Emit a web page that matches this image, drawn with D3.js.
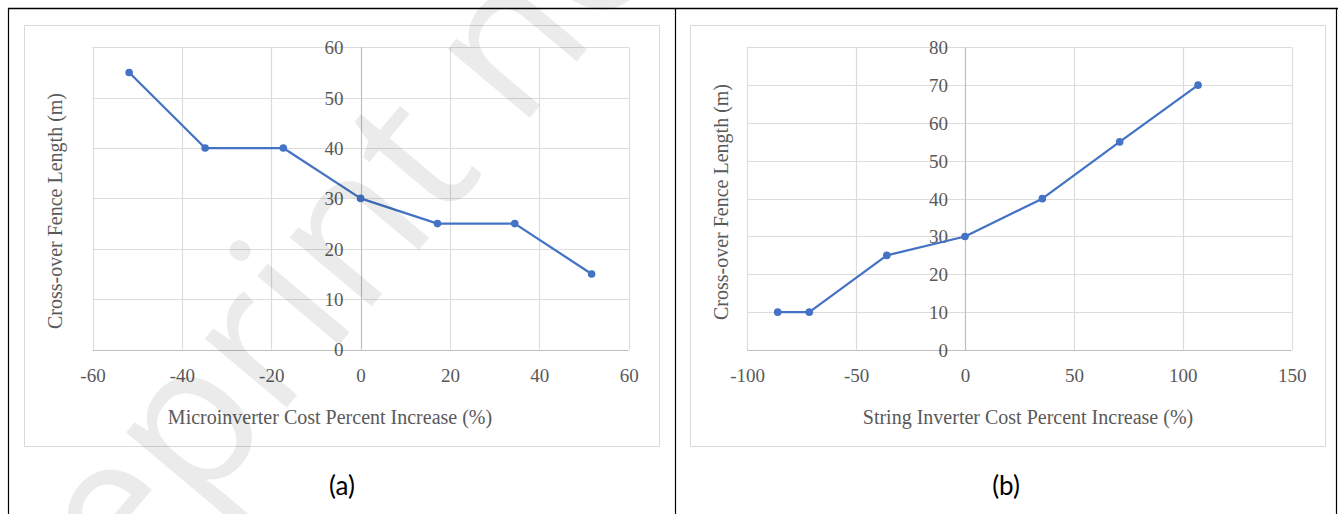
<!DOCTYPE html>
<html>
<head>
<meta charset="utf-8">
<script src="https://cdn.jsdelivr.net/npm/d3@7"></script>
<style>
  html, body { margin: 0; padding: 0; background: #fff; }
  svg { display: block; }
</style>
</head>
<body>
<svg id="chart" width="1338" height="514"></svg>
<script>
// ---------- data ----------
const microCostIncrease = [-51.8, -34.8, -17.3, 0, 17.2, 34.5, 51.7];
const microFenceLength  = [55, 40, 40, 30, 25, 25, 15];
const stringCostIncrease = [-86, -71.5, -35.9, 0, 35.5, 71, 107];
const stringFenceLength  = [10, 10, 25, 30, 40, 55, 70];
const microXTicks = [-60, -40, -20, 0, 20, 40, 60];
const microYTicks = [0, 10, 20, 30, 40, 50, 60];
const stringXTicks = [-100, -50, 0, 50, 100, 150];
const stringYTicks = [0, 10, 20, 30, 40, 50, 60, 70, 80];
const yTitle = "Cross-over Fence Length (m)";
const microXTitle = "Microinverter Cost Percent Increase (%)";
const stringXTitle = "String Inverter Cost Percent Increase (%)";
const captions = ["(a)", "(b)"];
const watermarkText = "Preprint not peer reviewed";

const svg = d3.select("#chart");
const SERIF = "'Liberation Serif', 'Times New Roman', serif";
const LINE_COLOR = "#4472C4";
const fmt = d => String(d); // plain hyphen-minus like the reference

function panel(cfg) {
  const g = svg.append("g");
  g.append("rect")
    .attr("x", cfg.box[0] + 0.5).attr("y", cfg.box[1] + 0.5)
    .attr("width", cfg.box[2] - cfg.box[0]).attr("height", cfg.box[3] - cfg.box[1])
    .attr("fill", "#fff").attr("stroke", "#d9d9d9").attr("stroke-width", 1);

  const x = d3.scaleLinear().domain(cfg.xDomain).range([cfg.plot[0], cfg.plot[2]]);
  const y = d3.scaleLinear().domain(cfg.yDomain).range([cfg.plot[3], cfg.plot[1]]);

  g.append("g").selectAll("line").data(cfg.yTicks).join("line")
    .attr("x1", x(cfg.xDomain[0])).attr("x2", x(cfg.xDomain[1]))
    .attr("y1", d => Math.round(y(d)) + 0.5).attr("y2", d => Math.round(y(d)) + 0.5)
    .attr("stroke", d => d === 0 ? "#bfbfbf" : "#dcdcdc").attr("stroke-width", 1.2);
  g.append("g").selectAll("line").data(cfg.xTicks).join("line")
    .attr("y1", y(cfg.yDomain[0])).attr("y2", y(cfg.yDomain[1]))
    .attr("x1", d => Math.round(x(d)) + 0.5).attr("x2", d => Math.round(x(d)) + 0.5)
    .attr("stroke", d => d === 0 ? "#bfbfbf" : "#dcdcdc").attr("stroke-width", 1.2);

  const xAxis = d3.axisBottom(x).tickValues(cfg.xTicks).tickSize(0).tickPadding(0).tickFormat(fmt);
  const xg = g.append("g").attr("transform", `translate(0,${y(0)})`).call(xAxis);
  xg.select(".domain").remove();
  xg.selectAll("text")
    .attr("y", 32).attr("dy", null)
    .attr("font-family", SERIF).attr("font-size", 19).attr("fill", "#595959");

  const yAxis = d3.axisLeft(y).tickValues(cfg.yTicks).tickSize(0).tickPadding(17).tickFormat(fmt);
  const yg = g.append("g").attr("transform", `translate(${x(0)},0)`).call(yAxis);
  yg.select(".domain").remove();
  yg.selectAll("text")
    .attr("dy", "0.34em")
    .attr("font-family", SERIF).attr("font-size", 19).attr("fill", "#595959");

  g.append("text")
    .attr("x", cfg.xTitlePos[0]).attr("y", cfg.xTitlePos[1])
    .attr("text-anchor", "middle")
    .attr("font-family", SERIF).attr("font-size", 20).attr("fill", "#595959")
    .text(cfg.xTitle);
  g.append("text")
    .attr("transform", `translate(${cfg.yTitlePos[0]},${cfg.yTitlePos[1]}) rotate(-90)`)
    .attr("text-anchor", "middle")
    .attr("font-family", SERIF).attr("font-size", 20).attr("fill", "#595959")
    .text(yTitle);

  const pts = cfg.xs.map((v, i) => [v, cfg.ys[i]]);
  const line = d3.line().x(d => x(d[0])).y(d => y(d[1]));
  g.append("path").datum(pts)
    .attr("d", line).attr("fill", "none")
    .attr("stroke", LINE_COLOR).attr("stroke-width", 2.25)
    .attr("stroke-linejoin", "round");
  g.append("g").selectAll("circle").data(pts).join("circle")
    .attr("cx", d => x(d[0])).attr("cy", d => y(d[1])).attr("r", 3.8)
    .attr("fill", LINE_COLOR);

  g.append("text")
    .attr("x", cfg.captionPos[0]).attr("y", cfg.captionPos[1])
    .attr("text-anchor", "middle")
    .attr("font-family", "Lato, 'Open Sans', sans-serif").attr("font-size", 26).attr("fill", "#000")
    .text(cfg.caption);
}

panel({
  box: [24, 25, 659, 446],
  plot: [92.5, 47.3, 628.7, 349.5],
  xDomain: [-60, 60], yDomain: [0, 60],
  xTicks: microXTicks, yTicks: microYTicks,
  xs: microCostIncrease, ys: microFenceLength,
  xTitle: microXTitle, xTitlePos: [330, 424],
  yTitlePos: [62, 211],
  caption: captions[0], captionPos: [342, 495]
});

panel({
  box: [690, 25, 1325, 446],
  plot: [747.2, 47.3, 1291.7, 350],
  xDomain: [-100, 150], yDomain: [0, 80],
  xTicks: stringXTicks, yTicks: stringYTicks,
  xs: stringCostIncrease, ys: stringFenceLength,
  xTitle: stringXTitle, xTitlePos: [1028, 424],
  yTitlePos: [727.5, 202],
  caption: captions[1], captionPos: [1006, 495]
});

const frame = svg.append("g").attr("stroke", "#000").attr("fill", "none");
frame.append("line").attr("x1", 8).attr("x2", 1338).attr("y1", 8.5).attr("y2", 8.5).attr("stroke-width", 1.6);
[8.5, 675.5, 1336.5].forEach(xv => {
  frame.append("line").attr("x1", xv).attr("x2", xv).attr("y1", 8).attr("y2", 514).attr("stroke-width", 1.2);
});

// watermark (light, semi-transparent, diagonal)
svg.append("text")
  .attr("transform", "translate(-5,755) rotate(-50)")
  .attr("font-family", "'Open Sans', sans-serif").attr("font-size", 200)
  .attr("fill", "#000").attr("fill-opacity", 0.08)
  .text(watermarkText);
</script>
</body>
</html>
